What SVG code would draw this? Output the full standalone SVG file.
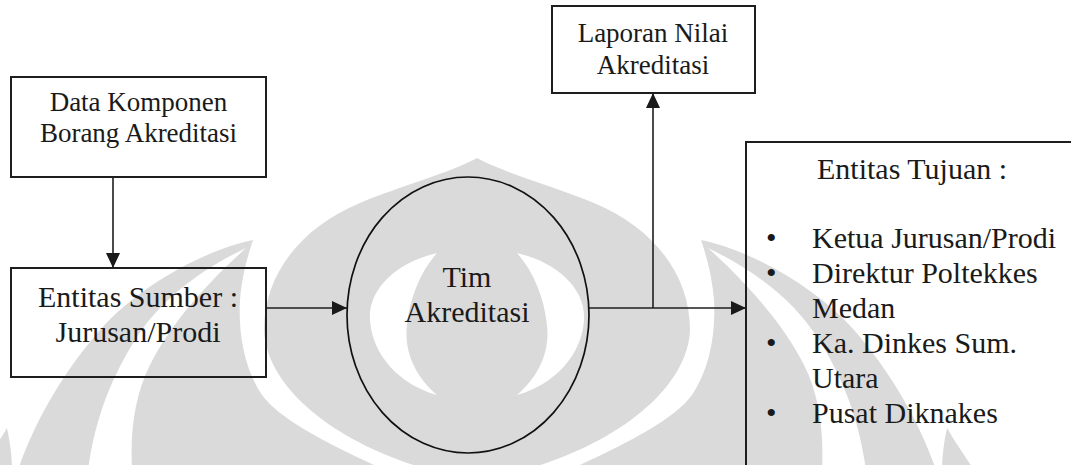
<svg xmlns="http://www.w3.org/2000/svg" width="1071" height="465" viewBox="0 0 1071 465">
  <style>
    .wm { fill: #dadada; }
    .wm-cut { fill: #ffffff; }
    .box { fill: none; stroke: #1e1e1e; stroke-width: 2; }
    .proc { fill: none; stroke: #111; stroke-width: 1.7; }
    .flow { fill: none; stroke: #1e1e1e; stroke-width: 1.6; }
    .lbl { font-family: "Liberation Serif", "Times New Roman", serif; fill: #1a1a1a; }
    .s27 { font-size: 27px; }
    .s30 { font-size: 30px; }
    .mid { text-anchor: middle; }
  </style>
  <defs>
    <marker id="arrow" markerUnits="userSpaceOnUse" markerWidth="15" markerHeight="14" refX="15" refY="7" orient="auto">
      <path d="M0,0 L15,7 L0,14 Z" fill="#1a1a1a"/>
    </marker>
    <!-- left half of the background emblem; the right half is its mirror -->
    <g id="emblem-half">
      <path class="wm" d="M253,240 C205,250 140,285 100,330 C65,370 35,420 18,470 L385,470 C330,445 280,420 262,395 C245,370 238,335 240,300 C242,275 248,255 253,240 Z"/>
      <path class="wm-cut" d="M246,248 C200,270 160,300 135,340 C110,380 95,420 88,470 L132,470 C130,430 135,395 150,365 C170,325 205,285 246,248 Z"/>
      <path class="wm" d="M7,428 C10,442 12,456 12,470 L-20,470 C-10,455 0,440 7,428 Z"/>
    </g>
  </defs>

  <rect width="1071" height="465" fill="#ffffff"/>

  <!-- background emblem -->
  <g id="watermark">
    <path class="wm" d="M477,158 C450,173 400,186 360,203 C300,228 264,275 264,330 C266,385 330,440 423,468 L531,468 C624,440 688,385 690,330 C690,275 654,228 594,203 C554,186 504,173 477,158 Z"/>
    <path class="wm-cut" d="M437,253 C398,262 368,288 370,320 C372,355 400,385 437,395 C414,375 404,350 407,325 C410,298 420,272 437,253 Z"/>
    <path class="wm-cut" d="M517,253 C556,262 586,288 584,320 C582,355 554,385 517,395 C540,375 550,350 547,325 C544,298 534,272 517,253 Z"/>
    <use href="#emblem-half"/>
    <use href="#emblem-half" transform="translate(954,0) scale(-1,1)"/>
  </g>

  <!-- connectors -->
  <g id="connectors">
    <line class="flow" x1="113" y1="177" x2="113" y2="268" marker-end="url(#arrow)"/>
    <line class="flow" x1="266" y1="308" x2="347" y2="308" marker-end="url(#arrow)"/>
    <line class="flow" x1="589" y1="308" x2="746" y2="308" marker-end="url(#arrow)"/>
    <line class="flow" x1="653" y1="308" x2="653" y2="93" marker-end="url(#arrow)"/>
  </g>

  <g id="data-komponen">
    <rect class="box" x="11" y="77" width="255" height="100"/>
    <text class="lbl s27 mid" x="138.5" y="111">Data Komponen</text>
    <text class="lbl s27 mid" x="138.5" y="142">Borang Akreditasi</text>
  </g>

  <g id="entitas-sumber">
    <rect class="box" x="11" y="268" width="255" height="109"/>
    <text class="lbl s30 mid" x="138" y="307">Entitas Sumber :</text>
    <text class="lbl s30 mid" x="138" y="342">Jurusan/Prodi</text>
  </g>

  <g id="tim-akreditasi">
    <ellipse class="proc" cx="468" cy="315" rx="121" ry="138"/>
    <text class="lbl s30 mid" x="467" y="287">Tim</text>
    <text class="lbl s30 mid" x="467" y="322">Akreditasi</text>
  </g>

  <g id="laporan-nilai">
    <rect class="box" x="552" y="6" width="203" height="87"/>
    <text class="lbl s27 mid" x="653" y="42">Laporan Nilai</text>
    <text class="lbl s27 mid" x="653" y="74">Akreditasi</text>
  </g>

  <g id="entitas-tujuan">
    <rect class="box" x="746" y="142" width="340" height="340"/>
    <text class="lbl s30" x="817" y="179">Entitas Tujuan :</text>
    <text class="lbl s30" x="766" y="248">•</text>
    <text class="lbl s30" x="812" y="248">Ketua Jurusan/Prodi</text>
    <text class="lbl s30" x="766" y="283">•</text>
    <text class="lbl s30" x="812" y="283">Direktur Poltekkes</text>
    <text class="lbl s30" x="812" y="318">Medan</text>
    <text class="lbl s30" x="766" y="353">•</text>
    <text class="lbl s30" x="812" y="353">Ka. Dinkes Sum.</text>
    <text class="lbl s30" x="812" y="388">Utara</text>
    <text class="lbl s30" x="766" y="423">•</text>
    <text class="lbl s30" x="812" y="423">Pusat Diknakes</text>
  </g>
</svg>
